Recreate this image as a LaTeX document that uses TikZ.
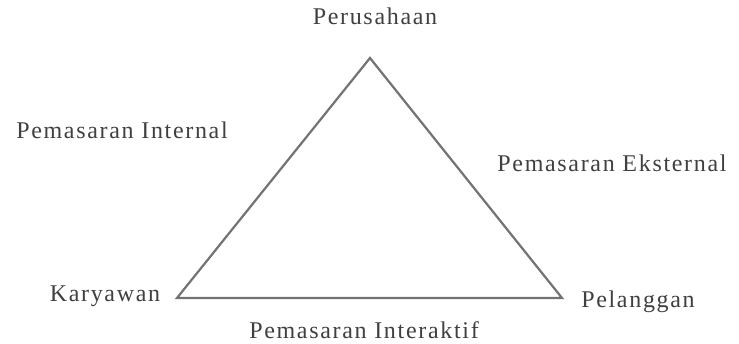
\documentclass[tikz,border=0pt]{standalone}
\usepackage{fontspec}
\setmainfont[LetterSpace=7]{Liberation Serif}
\usetikzlibrary{positioning}

\newcommand*{\picw}{739}
\newcommand*{\pich}{343}

\begin{document}
\begin{tikzpicture}
[
	x=1pt,
	y=1pt,
	vertex/.style={inner sep=0pt,minimum size=0pt},
	lbl/.style={text=black!75,font=\fontsize{24}{27}\selectfont,inner sep=0pt},
	side/.style={draw=black!55,line width=2.2pt,line join=miter}
]

	% frame
	\useasboundingbox[fill=white] (0,0) rectangle (\picw,\pich);

	% corners
	\node[vertex] at (370,285) (top) {};
	\node[vertex] at (177,45) (left) {};
	\node[vertex] at (562,45) (right) {};

	% triangle
	\draw[side] (top.center) -- (left.center) -- (right.center) -- cycle;

	% corner labels
	\node[lbl] at (375,327) (perusahaan) {Perusahaan};
	\node[lbl] at (105,47) (karyawan) {Karyawan};
	\node[lbl] at (638,41) (pelanggan) {Pelanggan};

	% side labels
	\node[lbl] at (122,213) (internal) {Pemasaran Internal};
	\node[lbl] at (612,180) (eksternal) {Pemasaran Eksternal};
	\node[lbl] at (364,13) (interaktif) {Pemasaran Interaktif};

\end{tikzpicture}
\end{document}
